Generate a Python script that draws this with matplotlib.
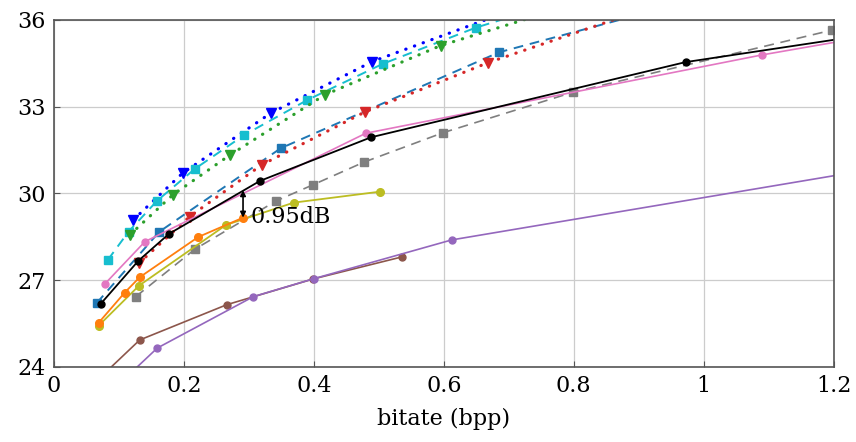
import matplotlib
matplotlib.use("Agg")
import matplotlib.pyplot as plt

plt.rcParams['font.family'] = ['DejaVu Serif', 'Liberation Serif']

# rate-distortion curves: bpp vs PSNR (dB)
blue_x = [0.122, 0.198, 0.334, 0.490, 0.70]
blue_y = [29.08, 30.70, 32.78, 34.56, 36.30]
cyan_x = [0.083, 0.115, 0.159, 0.217, 0.293, 0.390, 0.506, 0.649, 0.76]
cyan_y = [27.70, 28.68, 29.75, 30.85, 32.02, 33.23, 34.48, 35.73, 36.50]
green_x = [0.117, 0.183, 0.271, 0.417, 0.595, 0.78]
green_y = [28.57, 29.95, 31.33, 33.41, 35.11, 36.40]
red_x = [0.131, 0.209, 0.320, 0.478, 0.668, 0.90]
red_y = [27.59, 29.20, 30.99, 32.81, 34.52, 36.30]
tblue_x = [0.066, 0.162, 0.349, 0.685, 0.92]
tblue_y = [26.21, 28.67, 31.56, 34.88, 36.30]
black_x = [0.072, 0.130, 0.177, 0.317, 0.488, 0.972, 1.20]
black_y = [26.18, 27.67, 28.60, 30.43, 31.94, 34.54, 35.31]
pink_x = [0.078, 0.140, 0.480, 1.090, 1.20]
pink_y = [26.86, 28.33, 32.08, 34.79, 35.22]
gray_x = [0.126, 0.217, 0.342, 0.398, 0.477, 0.599, 0.799, 1.198]
gray_y = [26.43, 28.07, 29.74, 30.29, 31.08, 32.10, 33.50, 35.65]
orange_x = [0.069, 0.109, 0.132, 0.222, 0.291]
orange_y = [25.53, 26.57, 27.10, 28.49, 29.16]
olive_x = [0.069, 0.131, 0.265, 0.369, 0.502]
olive_y = [25.43, 26.81, 28.91, 29.68, 30.06]
brown_x = [0.065, 0.132, 0.266, 0.399, 0.535]
brown_y = [23.50, 24.93, 26.15, 27.04, 27.80]
purple_x = [0.10, 0.159, 0.307, 0.400, 0.612, 1.20]
purple_y = [23.40, 24.65, 26.43, 27.05, 28.39, 30.61]

gap_x = 0.291
gap_lo, gap_hi = 29.16, 30.11
gap_label = "0.95dB"

xticks = [0, 0.2, 0.4, 0.6, 0.8, 1, 1.2]
xticklabels = ["0", "0.2", "0.4", "0.6", "0.8", "1", "1.2"]
yticks = [24, 27, 30, 33, 36]

fig = plt.figure(figsize=(8.56, 4.42), dpi=100)
ax = fig.add_axes([0.063, 0.170, 0.911, 0.785])

dot = dict(linestyle=(0, (0.1, 2.8)), linewidth=2.3, dash_capstyle='round')
dash = dict(linestyle=(0, (5, 3.5)), linewidth=1.4)

ax.plot(blue_x, blue_y, color='#0000ff', marker='v', markersize=7.5, **dot)
ax.plot(cyan_x, cyan_y, color='#17becf', marker='s', markersize=6, **dash)
ax.plot(green_x, green_y, color='#2ca02c', marker='v', markersize=7.5, **dot)
ax.plot(tblue_x, tblue_y, color='#1f77b4', marker='s', markersize=6, **dash)
ax.plot(red_x, red_y, color='#d62728', marker='v', markersize=7.5, **dot)
ax.plot(gray_x, gray_y, color='#7f7f7f', marker='s', markersize=5.5, linestyle=(0, (6, 4)), linewidth=1.2)
ax.plot(pink_x, pink_y, color='#e377c2', marker='o', markersize=5, linewidth=1.2, markevery=[0, 1, 2, 3])
ax.plot(black_x, black_y, color='black', marker='o', markersize=5, linewidth=1.3, markevery=list(range(6)))
ax.plot(olive_x, olive_y, color='#bcbd22', marker='o', markersize=5.5, linewidth=1.3)
ax.plot(orange_x, orange_y, color='#ff7f0e', marker='o', markersize=5.5, linewidth=1.3)
ax.plot(brown_x, brown_y, color='#8c564b', marker='o', markersize=5, linewidth=1.2)
ax.plot(purple_x, purple_y, color='#9467bd', marker='o', markersize=5, linewidth=1.2, markevery=[0, 1, 2, 3, 4])

ax.annotate('', xy=(gap_x, gap_hi), xytext=(gap_x, gap_lo),
            arrowprops=dict(arrowstyle='<|-|>', color='black', lw=1.2, mutation_scale=8,
                            shrinkA=0, shrinkB=0))
ax.text(gap_x + 0.012, (gap_lo + gap_hi) / 2 - 0.45, gap_label, fontsize=16,
        ha='left', va='center')

ax.set_xlim(0, 1.2)
ax.set_ylim(24, 36)
ax.set_xticks(xticks)
ax.set_xticklabels(xticklabels)
ax.set_yticks(yticks)
ax.tick_params(direction='in', labelsize=16, length=4, color='#555555', pad=6)
ax.grid(True, color='#cccccc', linewidth=0.9)
ax.set_axisbelow(True)
for s in ax.spines.values():
    s.set_color('#555555')
    s.set_linewidth(1.2)
ax.set_xlabel('bitate (bpp)', fontsize=16, labelpad=8)

fig.savefig('out.png', dpi=100)
